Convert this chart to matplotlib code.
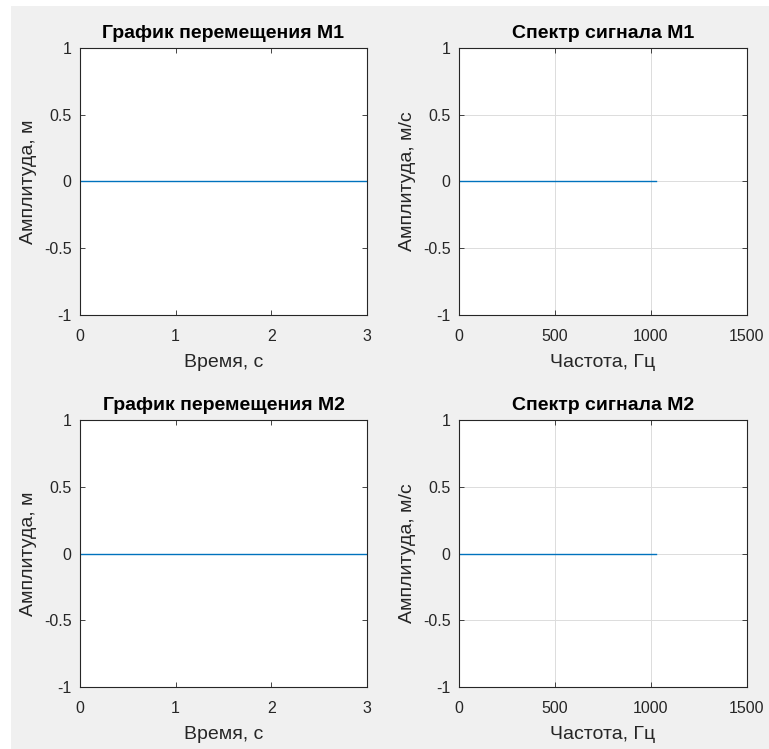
import matplotlib.pyplot as plt
from matplotlib.patches import Rectangle

# данные
t = [0, 3]            # время, с
x1 = [0, 0]           # перемещение M1, м
x2 = [0, 0]           # перемещение M2, м
f = [0, 1024]         # частота, Гц
S1 = [0, 0]           # спектр M1
S2 = [0, 0]           # спектр M2

t_ticks = [0, 1, 2, 3]
f_ticks = [0, 500, 1000, 1500]
y_ticks = [-1, -0.5, 0, 0.5, 1]
y_labels = ['-1', '-0.5', '0', '0.5', '1']

plt.rcParams['font.family'] = ['Liberation Sans', 'DejaVu Sans']
dark = '#262626'

fig = plt.figure(figsize=(7.69, 7.49), dpi=100, facecolor='white')
fig.patches.append(Rectangle((11/769, 0), 1, 1 - 6/749, transform=fig.transFigure,
                             facecolor='#f0f0f0', edgecolor='none', zorder=-10))

L = [80/769, 459/769]
W = [287/769, 288/769]
B = [1 - 315/749, 1 - 687/749]
H = 267/749

panels = [
    (0, 0, t, x1, 'График перемещения M1', 'Время, с', 'Амплитуда, м', t_ticks, False),
    (1, 0, f, S1, 'Спектр сигнала M1', 'Частота, Гц', 'Амплитуда, м/с', f_ticks, True),
    (0, 1, t, x2, 'График перемещения M2', 'Время, с', 'Амплитуда, м', t_ticks, False),
    (1, 1, f, S2, 'Спектр сигнала M2', 'Частота, Гц', 'Амплитуда, м/с', f_ticks, True),
]

for col, row, xs, ys, title, xl, yl, xt, grid in panels:
    ax = fig.add_axes([L[col], B[row], W[col], H])
    ax.plot(xs, ys, color='#0072BD', lw=1.0)
    ax.set_xlim(xt[0], xt[-1])
    ax.set_ylim(-1, 1)
    ax.set_xticks(xt)
    ax.set_xticklabels([str(v) for v in xt])
    ax.set_yticks(y_ticks)
    ax.set_yticklabels(y_labels)
    ax.tick_params(direction='in', top=True, right=True, length=3.5, width=0.6,
                   colors=dark, labelsize=11.5)
    ax.tick_params(axis='x', pad=10)
    ax.tick_params(axis='y', pad=6)
    for s in ax.spines.values():
        s.set_color(dark)
        s.set_linewidth(0.8)
    if grid:
        ax.grid(True, color='#dcdcdc', lw=0.7)
        ax.set_axisbelow(True)
    ax.set_title(title, fontsize=14, fontweight='bold', color='black', pad=7.5)
    ax.set_xlabel(xl, fontsize=14, color=dark, labelpad=7)
    ax.set_ylabel(yl, fontsize=14, color=dark, labelpad=5)

fig.savefig('out.png', dpi=100, facecolor=fig.get_facecolor())
